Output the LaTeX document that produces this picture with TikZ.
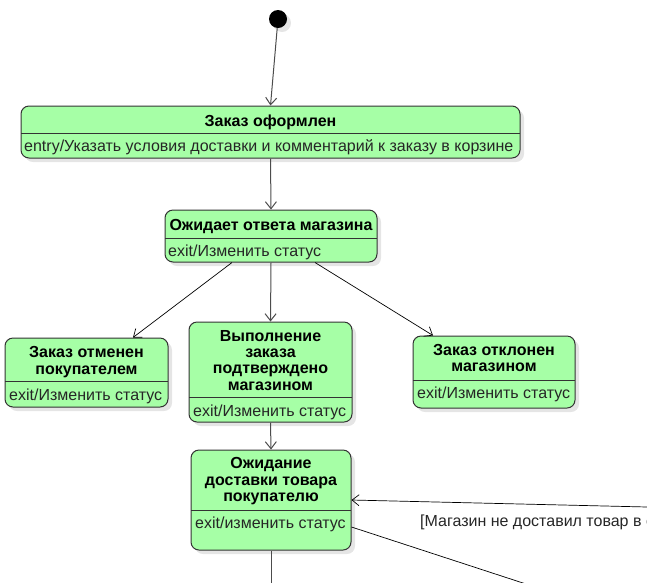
\documentclass[tikz,border=0pt]{standalone}
\usepackage{fontspec}
\setmainfont{Liberation Sans}
\usetikzlibrary{arrows.meta,shadows}
\definecolor{stgreen}{RGB}{166,255,166}
\definecolor{edge}{RGB}{51,51,51}
\begin{document}
\begin{tikzpicture}[x=1pt,y=-1pt,
 shad/.style={drop shadow={shadow xshift=4pt, shadow yshift=-4pt, fill=black!10, opacity=1}},
 state/.style={draw=edge, fill=stgreen, rounded corners=8pt, line width=1pt, inner sep=0pt, shad},
 div/.style={draw=edge, line width=1pt},
 title/.style={font=\fontsize{16}{16.3}\selectfont\bfseries, align=center, inner sep=0pt, anchor=base, text=black},
 act/.style={font=\fontsize{16}{16.3}\selectfont, anchor=base west, inner sep=0pt, text=black!85},
 trans/.style={draw=black!70, line width=1pt, -{Straight Barb[length=7pt,width=11pt]}},
 dtrans/.style={draw=black, line width=0.7pt, -{Straight Barb[length=7pt,width=11pt]}},
 plain/.style={draw=black!70, line width=1pt},
 dplain/.style={draw=black, line width=0.7pt}]
\useasboundingbox (0,0) rectangle (647,582);
\clip (0,0) rectangle (647,582);

% initial state
\node[circle, fill=black, minimum size=18pt, inner sep=0pt, shad] (init) at (278,19) {};

% Заказ оформлен
\node[state, minimum width=499pt, minimum height=52pt] (zo) at (270.5,132) {};
\draw[div] (21,133) -- (520,133);
\node[title] (zot) at (270.5,126.5) {Заказ оформлен};
\node[act] (zoa) at (24,151.5) {entry/Указать условия доставки и комментарий к заказу в корзине};

% Ожидает ответа магазина
\node[state, minimum width=212pt, minimum height=52pt] (ow) at (271,236) {};
\draw[div] (165,238) -- (377,238);
\node[title] (owt) at (271,230) {Ожидает ответа магазина};
\node[act] (owa) at (168,256.5) {exit/Изменить статус};

% Заказ отменен покупателем
\node[state, minimum width=163pt, minimum height=69pt] (ot) at (86.5,372.5) {};
\draw[div] (5,381) -- (168,381);
\node[title] (ott) at (86.5,374) {Заказ отменен\\покупателем};
\node[act] (ota) at (9,400) {exit/Изменить статус};

% Выполнение заказа подтверждено магазином
\node[state, minimum width=163pt, minimum height=100pt] (vp) at (270.5,372) {};
\draw[div] (189,397) -- (352,397);
\node[title] (vpt) at (270.5,390) {Выполнение\\заказа\\подтверждено\\магазином};
\node[act] (vpa) at (193,416) {exit/Изменить статус};

% Заказ отклонен магазином
\node[state, minimum width=162pt, minimum height=72pt] (ok) at (494,372) {};
\draw[div] (413,380) -- (575,380);
\node[title] (okt) at (494,371.5) {Заказ отклонен\\магазином};
\node[act] (oka) at (417,398.5) {exit/Изменить статус};

% Ожидание доставки товара покупателю
\node[state, minimum width=160pt, minimum height=100pt] (od) at (271,500) {};
\draw[div] (191,510) -- (351,510);
\node[title] (odt) at (271,501.5) {Ожидание\\доставки товара\\покупателю};
\node[act] (oda) at (195,528) {exit/изменить статус};

% connectors
\draw[trans] (init) -- (zo.north);
\draw[trans] (zo.south) -- (ow.north);
\draw[dtrans] ([xshift=-39pt]ow.south) -- ([xshift=46.5pt]ot.north);
\draw[trans] (ow.south) -- (vp.north);
\draw[dtrans] ([xshift=44pt]ow.south) -- ([xshift=-61pt]ok.north);
\draw[trans] (vp.south) -- (od.north);
\coordinate (down) at (271,600);
\draw[plain] (od.south) -- (down);
\coordinate (rin) at (660,507.3);
\draw[dtrans] (rin) -- (od.east);
\coordinate (rout) at (575,600);
\draw[dplain] ([yshift=-27pt]od.east) -- (rout);
\node[act] (lbl) at (420,526) {[Магазин не доставил товар в срок]};
\end{tikzpicture}
\end{document}
